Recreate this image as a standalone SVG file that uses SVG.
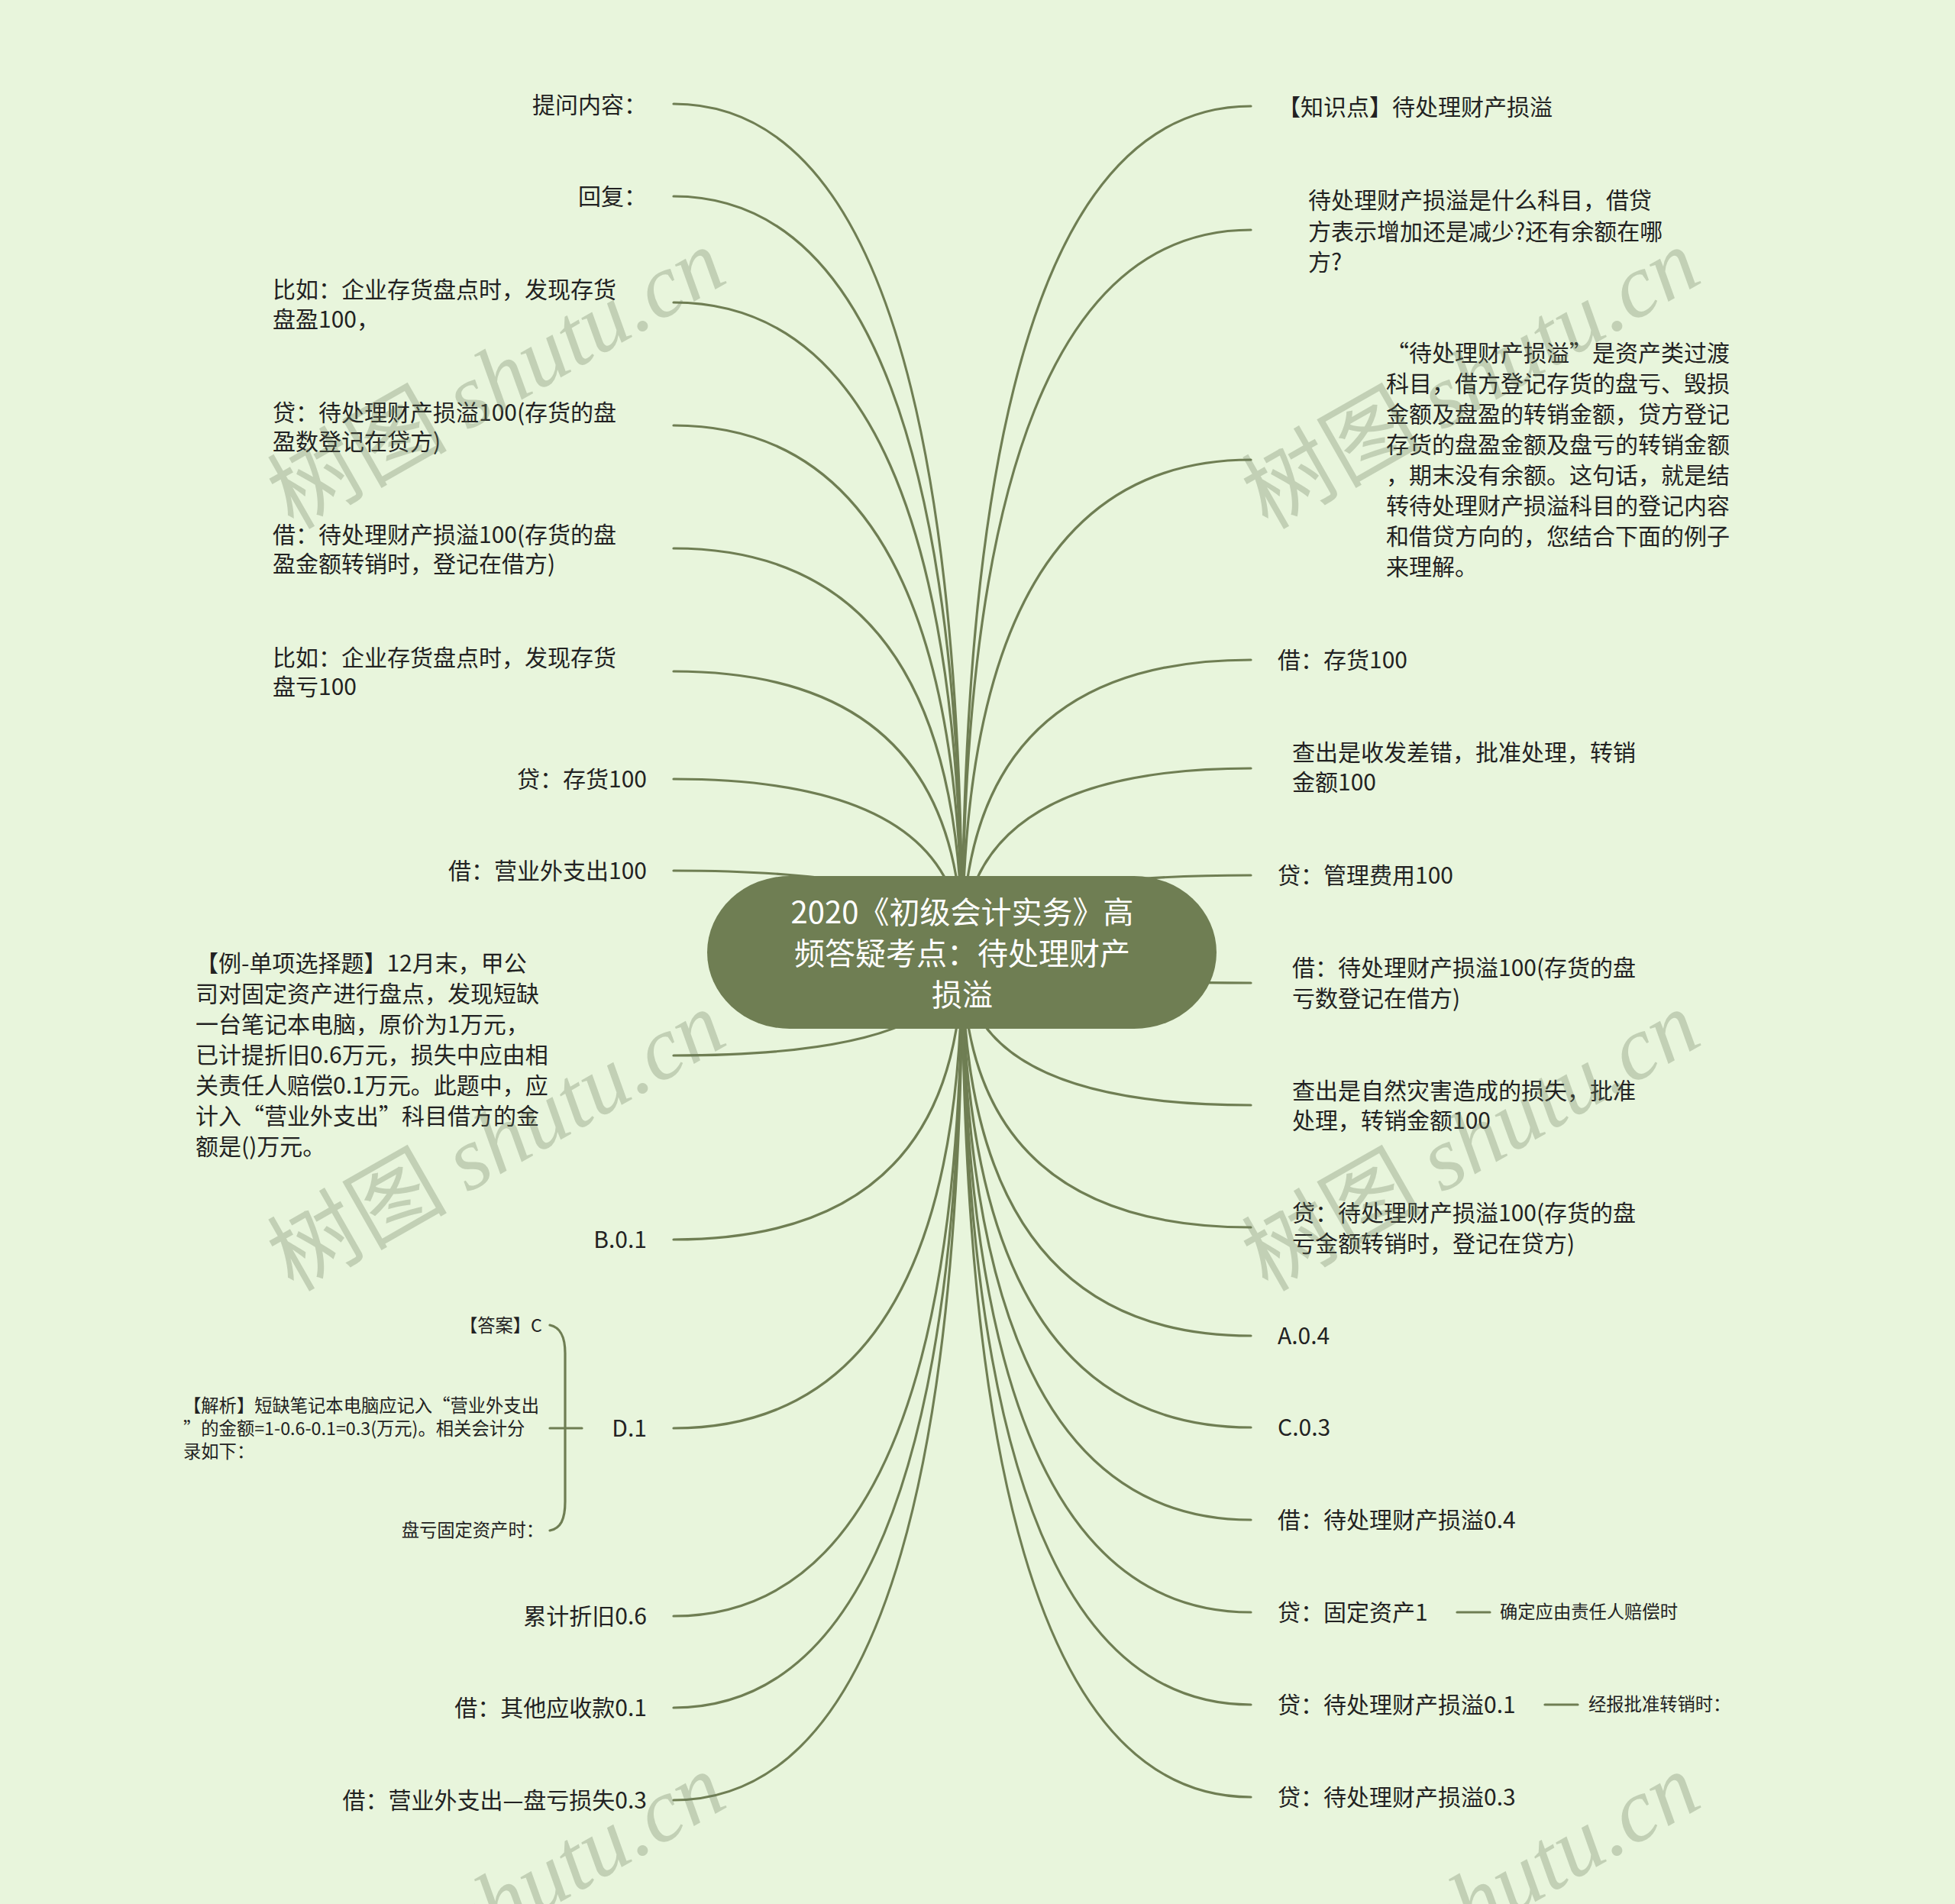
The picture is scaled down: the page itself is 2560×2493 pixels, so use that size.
<svg xmlns="http://www.w3.org/2000/svg" width="2560" height="2493" viewBox="0 0 2560 2493">
<style>
.bg{fill:#e8f5dc}
.c{fill:none;stroke:#6f7e53;stroke-width:3.2;stroke-linecap:round}
.t{font-family:"Noto Sans CJK SC","Noto Sans",sans-serif;font-size:30px;fill:#222}
.s{font-size:23.3px}
.e{text-anchor:end}
.rt{font-family:"Noto Sans CJK SC","Noto Sans",sans-serif;font-size:40px;fill:#ffffff;text-anchor:middle}
.wm{font-family:"Noto Sans CJK SC",serif;font-size:118px;fill:#6b7a5e;fill-opacity:0.3;text-anchor:middle}
.wm tspan{font-family:"Liberation Serif",serif;font-style:italic}
</style>
<rect class="bg" x="0" y="0" width="2560" height="2493"/>

<g id="connectors">
<path class="c" d="M1260 1247 Q1260 136 882 136"/>
<path class="c" d="M1260 1247 Q1260 257 882 257"/>
<path class="c" d="M1260 1247 Q1260 396 882 396"/>
<path class="c" d="M1260 1247 Q1260 557 882 557"/>
<path class="c" d="M1260 1247 Q1260 718 882 718"/>
<path class="c" d="M1260 1247 Q1260 879 882 879"/>
<path class="c" d="M1260 1247 Q1260 1020 882 1020"/>
<path class="c" d="M1260 1247 Q1260 1140 882 1140"/>
<path class="c" d="M1260 1247 Q1260 1382 882 1382"/>
<path class="c" d="M1260 1247 Q1260 1623 882 1623"/>
<path class="c" d="M1260 1247 Q1260 1870 882 1870"/>
<path class="c" d="M1260 1247 Q1260 2116 882 2116"/>
<path class="c" d="M1260 1247 Q1260 2236 882 2236"/>
<path class="c" d="M1260 1247 Q1260 2357 882 2357"/>
<path class="c" d="M1260 1247 Q1260 139 1638 139"/>
<path class="c" d="M1260 1247 Q1260 301 1638 301"/>
<path class="c" d="M1260 1247 Q1260 602 1638 602"/>
<path class="c" d="M1260 1247 Q1260 864 1638 864"/>
<path class="c" d="M1260 1247 Q1260 1006 1638 1006"/>
<path class="c" d="M1260 1247 Q1260 1146 1638 1146"/>
<path class="c" d="M1260 1247 Q1260 1287 1638 1287"/>
<path class="c" d="M1260 1247 Q1260 1447 1638 1447"/>
<path class="c" d="M1260 1247 Q1260 1607 1638 1607"/>
<path class="c" d="M1260 1247 Q1260 1749 1638 1749"/>
<path class="c" d="M1260 1247 Q1260 1869 1638 1869"/>
<path class="c" d="M1260 1247 Q1260 1990 1638 1990"/>
<path class="c" d="M1260 1247 Q1260 2111 1638 2111"/>
<path class="c" d="M1260 1247 Q1260 2232 1638 2232"/>
<path class="c" d="M1260 1247 Q1260 2353 1638 2353"/>
<path class="c" d="M720 1735 C734 1738 740 1750 740 1772 L740 1966 C740 1990 734 2001 720 2004"/>
<path class="c" d="M720 1870 L762 1870"/>
<path class="c" d="M1908 2111 L1951 2111"/>
<path class="c" d="M2023 2232 L2066 2232"/>
</g>

<g id="root">
<rect x="926" y="1147" width="667" height="200" rx="108" ry="100" fill="#6f7e53"/>
<text class="rt" x="1260" y="1209">2020《初级会计实务》高</text>
<text class="rt" x="1260" y="1263">频答疑考点：待处理财产</text>
<text class="rt" x="1260" y="1317">损溢</text>
</g>

<g id="l1"><text class="t e" x="847" y="148">提问内容：</text></g>
<g id="l2"><text class="t e" x="847" y="268">回复：</text></g>
<g id="l3"><text class="t" x="357" y="390">比如：企业存货盘点时，发现存货</text><text class="t" x="357" y="429">盘盈100，</text></g>
<g id="l4"><text class="t" x="357" y="551">贷：待处理财产损溢100(存货的盘</text><text class="t" x="357" y="589">盈数登记在贷方)</text></g>
<g id="l5"><text class="t" x="357" y="711">借：待处理财产损溢100(存货的盘</text><text class="t" x="357" y="749">盈金额转销时，登记在借方)</text></g>
<g id="l6"><text class="t" x="357" y="872">比如：企业存货盘点时，发现存货</text><text class="t" x="357" y="910">盘亏100</text></g>
<g id="l7"><text class="t e" x="847" y="1031">贷：存货100</text></g>
<g id="l8"><text class="t e" x="847" y="1151">借：营业外支出100</text></g>
<g id="l9">
<text class="t" x="256" y="1272">【例-单项选择题】12月末，甲公</text>
<text class="t" x="256" y="1312">司对固定资产进行盘点，发现短缺</text>
<text class="t" x="256" y="1352">一台笔记本电脑，原价为1万元，</text>
<text class="t" x="256" y="1392">已计提折旧0.6万元，损失中应由相</text>
<text class="t" x="256" y="1432">关责任人赔偿0.1万元。此题中，应</text>
<text class="t" x="256" y="1472">计入“营业外支出”科目借方的金</text>
<text class="t" x="256" y="1512">额是()万元。</text>
</g>
<g id="l10"><text class="t e" x="847" y="1634">B.0.1</text></g>
<g id="l11"><text class="t e" x="847" y="1881">D.1</text></g>
<g id="l11a"><text class="t s e" x="710" y="1744">【答案】C</text></g>
<g id="l11b">
<text class="t s" x="240" y="1849">【解析】短缺笔记本电脑应记入“营业外支出</text>
<text class="t s" x="240" y="1879">”的金额=1-0.6-0.1=0.3(万元)。相关会计分</text>
<text class="t s" x="240" y="1909">录如下：</text>
</g>
<g id="l11c"><text class="t s e" x="712" y="2012">盘亏固定资产时：</text></g>
<g id="l12"><text class="t e" x="847" y="2127">累计折旧0.6</text></g>
<g id="l13"><text class="t e" x="847" y="2247">借：其他应收款0.1</text></g>
<g id="l14"><text class="t e" x="847" y="2368">借：营业外支出—盘亏损失0.3</text></g>

<g id="r1"><text class="t" x="1673" y="151">【知识点】待处理财产损溢</text></g>
<g id="r2">
<text class="t" x="1713" y="273">待处理财产损溢是什么科目，借贷</text>
<text class="t" x="1713" y="314">方表示增加还是减少?还有余额在哪</text>
<text class="t" x="1713" y="354">方?</text>
</g>
<g id="r3">
<text class="t" x="1815" y="473">“待处理财产损溢”是资产类过渡</text>
<text class="t" x="1815" y="513">科目，借方登记存货的盘亏、毁损</text>
<text class="t" x="1815" y="553">金额及盘盈的转销金额，贷方登记</text>
<text class="t" x="1815" y="593">存货的盘盈金额及盘亏的转销金额</text>
<text class="t" x="1815" y="633">，期末没有余额。这句话，就是结</text>
<text class="t" x="1815" y="673">转待处理财产损溢科目的登记内容</text>
<text class="t" x="1815" y="713">和借贷方向的，您结合下面的例子</text>
<text class="t" x="1815" y="753">来理解。</text>
</g>
<g id="r4"><text class="t" x="1673" y="875">借：存货100</text></g>
<g id="r5"><text class="t" x="1692" y="996">查出是收发差错，批准处理，转销</text><text class="t" x="1692" y="1035">金额100</text></g>
<g id="r6"><text class="t" x="1673" y="1157">贷：管理费用100</text></g>
<g id="r7"><text class="t" x="1692" y="1278">借：待处理财产损溢100(存货的盘</text><text class="t" x="1692" y="1318">亏数登记在借方)</text></g>
<g id="r8"><text class="t" x="1692" y="1439">查出是自然灾害造成的损失，批准</text><text class="t" x="1692" y="1478">处理，转销金额100</text></g>
<g id="r9"><text class="t" x="1692" y="1599">贷：待处理财产损溢100(存货的盘</text><text class="t" x="1692" y="1639">亏金额转销时，登记在贷方)</text></g>
<g id="r10"><text class="t" x="1673" y="1760">A.0.4</text></g>
<g id="r11"><text class="t" x="1673" y="1880">C.0.3</text></g>
<g id="r12"><text class="t" x="1673" y="2001">借：待处理财产损溢0.4</text></g>
<g id="r13"><text class="t" x="1673" y="2122">贷：固定资产1</text></g>
<g id="r13a"><text class="t s" x="1964" y="2119">确定应由责任人赔偿时</text></g>
<g id="r14"><text class="t" x="1673" y="2243">贷：待处理财产损溢0.1</text></g>
<g id="r14a"><text class="t s" x="2080" y="2240">经报批准转销时：</text></g>
<g id="r15"><text class="t" x="1673" y="2364">贷：待处理财产损溢0.3</text></g>

<g id="watermarks">
<text class="wm" transform="translate(670 531) rotate(-29.7)" x="0" y="0">树图 <tspan>shutu.cn</tspan></text>
<text class="wm" transform="translate(1946 531) rotate(-29.7)" x="0" y="0">树图 <tspan>shutu.cn</tspan></text>
<text class="wm" transform="translate(670 1529) rotate(-29.7)" x="0" y="0">树图 <tspan>shutu.cn</tspan></text>
<text class="wm" transform="translate(1946 1529) rotate(-29.7)" x="0" y="0">树图 <tspan>shutu.cn</tspan></text>
<text class="wm" transform="translate(670 2527) rotate(-29.7)" x="0" y="0">树图 <tspan>shutu.cn</tspan></text>
<text class="wm" transform="translate(1946 2527) rotate(-29.7)" x="0" y="0">树图 <tspan>shutu.cn</tspan></text>
</g>
</svg>
